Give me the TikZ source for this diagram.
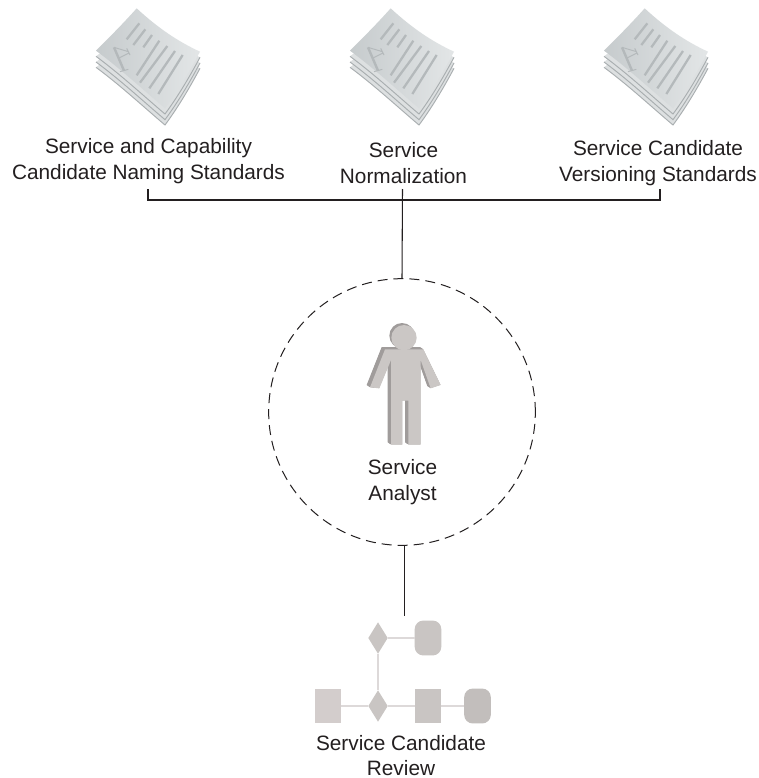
\documentclass[tikz,border=0pt]{standalone}
\usepackage{fontspec}
\setmainfont{Liberation Sans}
\usetikzlibrary{shapes.geometric}
\definecolor{sheet}{HTML}{DDE0E1}
\definecolor{sheetl}{HTML}{C6CBCD}
\definecolor{sheetr}{HTML}{E3E6E7}
\definecolor{sheetedge}{HTML}{A9AEB0}
\definecolor{bar}{HTML}{B4B9BB}
\definecolor{man}{HTML}{CBC7C5}
\definecolor{manside}{HTML}{A09C9B}
\definecolor{flowa}{HTML}{D3CDCC}
\definecolor{flowb}{HTML}{C9C5C3}
\definecolor{flowc}{HTML}{C2BEBC}
\definecolor{flowline}{HTML}{DDD9D9}
\definecolor{ink}{HTML}{231F20}
\tikzset{
  x=0.75pt,y=-0.75pt,
  lbl/.style={font=\fontsize{15.6pt}{19.5pt}\selectfont,align=center,inner sep=0pt,text=ink},
  conn/.style={draw=ink,line width=0.8pt},
  fsquare/.style={rectangle,minimum width=20pt,minimum height=26.2pt,inner sep=0pt,outer sep=0pt},
  fround/.style={rectangle,rounded corners=6.5pt,minimum width=20pt,minimum height=26.2pt,inner sep=0pt,outer sep=0pt},
  fdia/.style={diamond,aspect=0.62,minimum width=14.5pt,minimum height=23.5pt,inner sep=0pt,outer sep=0pt,fill=flowb},
  fline/.style={draw=flowline,line width=0.8pt},
  pics/docicon/.style={code={
    \begin{scope}[x=0.25pt,y=-0.25pt]
      \foreach \d in {50,34,17}{
        \begin{scope}[yshift=-\d*0.25pt]
        \fill[sheet] (18,152) .. controls (90,205) and (160,270) .. (225,325) .. controls (262,275) and (298,215) .. (330,155) -- (140,60) -- cycle;
        \draw[sheetedge,line width=0.7pt] (18,152) .. controls (90,205) and (160,270) .. (225,325) .. controls (262,275) and (298,215) .. (330,155);
        \end{scope}
      }
      \shade[left color=sheetl,right color=sheetr] (140,25) .. controls (205,85) and (265,125) .. (330,155) .. controls (298,215) and (262,275) .. (225,325) .. controls (160,270) and (90,205) .. (18,152) .. controls (60,110) and (100,70) .. (140,25) -- cycle;
      \draw[bar,line width=1.7pt] (148,70) -- (110,118) (166,88) -- (130,135) (186,105) -- (160,142) (208,122) -- (140,226) (232,138) -- (150,248) (255,153) -- (178,265) (278,165) -- (205,282);
      \draw[bar,line width=1.8pt] (72,142) -- (102,212);
      \draw[bar,line width=0.7pt] (72,142) -- (115,155) (85,175) -- (115,160) (90,215) -- (115,208) (110,145) -- (120,165);
    \end{scope}
  }},
}
\newcommand{\manoutline}{(135,118) -- (250,118) -- (302,225) -- (272,235) -- (242,150) -- (242,404) -- (205,404) -- (205,272) -- (187,272) -- (187,404) -- (153,404) -- (153,150) -- (118,235) -- (90,232) -- cycle}
\begin{document}
\begin{tikzpicture}
\useasboundingbox (0,0) rectangle (759,778);
\fill[white] (0,0) rectangle (759,778);
% documents
\pic at (90,0) {docicon};
\pic at (344,0) {docicon};
\pic at (598,0) {docicon};
% labels
\node[lbl] (t1) at (148.5,161) {Service and Capability\\Candidate Naming Standards};
\node[lbl] (t2) at (403.5,163) {Service\\Normalization};
\node[lbl] (t3) at (658,163) {Service Candidate\\Versioning Standards};
% analyst circle
\node[circle,draw=ink,dash pattern=on 7.5pt off 4.5pt,line width=0.75pt,minimum size=200pt,inner sep=0pt,outer sep=0pt] (analystring) at (402,412) {};
% person
\begin{scope}[shift={(340,310)},x=0.25pt,y=-0.25pt]
  \foreach \t in {1,...,10}{
    \fill[manside,xshift=-\t*0.25pt,yshift=0.17pt*\t] \manoutline;
  }
  \fill[man] \manoutline;
  \fill[manside] (186,77) circle[radius=9.5pt];
  \fill[man] (192,83) circle[radius=9.5pt];
\end{scope}
\node[lbl] (t4) at (402.5,482) {Service\\Analyst};
% flow
\node[fdia] (d1) at (378,638) {};
\node[fround,fill=flowb] (r1) at (428,638) {};
\node[fsquare,fill=flowa] (s1) at (328,706) {};
\node[fdia] (d2) at (378,706) {};
\node[fsquare,fill=flowb] (s2) at (428,706) {};
\node[fround,fill=flowc] (r2) at (477.5,706) {};
\draw[fline] (d1) -- (r1);
\draw[fline] (d1) -- (d2);
\draw[fline] (s1) -- (d2);
\draw[fline] (d2) -- (s2);
\draw[fline] (s2) -- (r2);
\node[lbl,font=\fontsize{15.6pt}{18.4pt}\selectfont] (t5) at (401,755.5) {Service Candidate\\Review};
% connectors
\coordinate (b1) at (148,189);
\coordinate (b3) at (660,189);
\coordinate (bm) at (402.5,189);
\coordinate (flowtop) at (404.5,616);
\draw[conn] (b1) |- (402,200) -| (b3);
\draw[conn] (bm) -- (analystring.north);
\draw[conn] (analystring.south -| flowtop) -- (flowtop);
\end{tikzpicture}
\end{document}
